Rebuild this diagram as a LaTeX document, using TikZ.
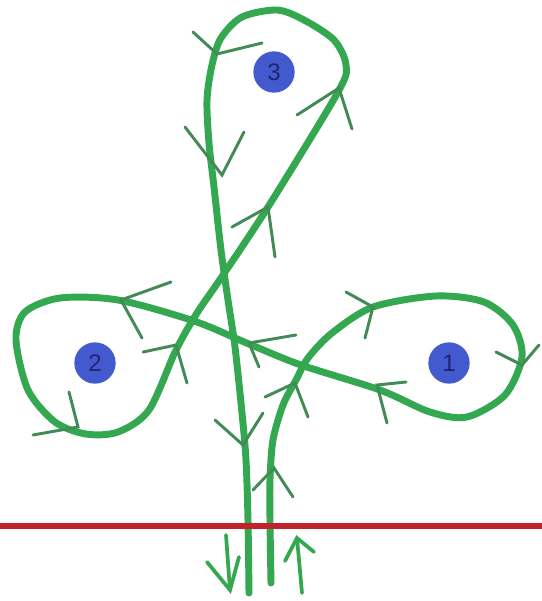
\documentclass[tikz,border=0pt]{standalone}
\usepackage{fontspec}
\setsansfont{Liberation Sans}
\definecolor{pathgreen}{RGB}{52,168,80}
\definecolor{arrowgreen}{RGB}{66,138,86}
\definecolor{redline}{RGB}{192,36,42}
\definecolor{discblue}{RGB}{66,90,205}
\definecolor{digitblue}{RGB}{28,38,115}
\tikzset{
  loopline/.style={draw=pathgreen, line width=5.2pt, line cap=round, line join=round},
  vhead/.style={draw=arrowgreen, line width=2.2pt, line cap=round, line join=miter},
  flowarrow/.style={draw=pathgreen, line width=2.8pt, line cap=round, line join=miter},
  marker/.style={circle, fill=discblue, minimum size=31pt, inner sep=0pt, text=digitblue, font=\sffamily\fontsize{18}{18}\selectfont},
  border/.style={draw=redline, line width=4.5pt}
}
\newcommand{\vh}[3]{\draw[vhead] #2 -- #1 -- #3;}
\begin{document}
\begin{tikzpicture}[x=0.75pt,y=-0.75pt]
\fill[white] (0,0) rectangle (542,601);
\useasboundingbox (0,0) rectangle (542,601);
% main path
\draw[loopline] plot[smooth, tension=0.5] coordinates {
 (271,583) (270,520) (270,480) (273,440) (283,405) (296,380) (308,358) (332,333)
 (373,307) (436,296) (484,302) (513,325) (522,357) (505,395) (467,417) (430,412)
 (380,390) (301,365) (249,344) (194,321) (118,300) (60,298) (25,312) (16,340)
 (28,390) (55,422) (86,434) (118,432) (149,410) (176,350) (197,313) (221,278)
 (268,207) (338,92) (346,65) (334,40) (304,20) (277,10) (242,17) (221,38)
 (212,65) (207,100) (209,143) (214,187) (221,250) (228,300) (235,347) (242,413)
 (246,460) (248,520) (249,593)};
% arrowheads on the path
\vh{(274,468)}{(253,490)}{(293,497)}
\vh{(295,383)}{(265,397)}{(308,417)}
\vh{(373,307)}{(346,292)}{(365,338)}
\vh{(522,365)}{(496,352)}{(539,345)}
\vh{(377,385)}{(406,382)}{(387,423)}
\vh{(249,343)}{(296,335)}{(259,367)}
\vh{(121,300)}{(171,282)}{(142,338)}
\vh{(78,427)}{(69,392)}{(33,435)}
\vh{(176,345)}{(143,352)}{(187,383)}
\vh{(268,207)}{(232,227)}{(275,257)}
\vh{(339,88)}{(297,115)}{(352,129)}
\vh{(217,54)}{(193,32)}{(262,43)}
\vh{(222,175)}{(185,127)}{(244,132)}
\vh{(243,445)}{(215,420)}{(263,413)}
% red boundary line
\coordinate (bl) at (0,526);
\coordinate (br) at (542,526);
\draw[border] (bl) -- (br);
% arrows below the line
\coordinate (dtop) at (226,535);
\coordinate (dtip) at (230,590);
\draw[flowarrow] (dtop) -- (dtip);
\draw[flowarrow] (207,562) -- (dtip) -- (239,557);
\coordinate (ubot) at (302,593);
\coordinate (utip) at (297,538);
\draw[flowarrow] (ubot) -- (utip);
\draw[flowarrow] (285,561) -- (utip) -- (314,552);
% numbered discs
\node[marker] (n1) at (449,363) {1};
\node[marker] (n2) at (95,363) {2};
\node[marker] (n3) at (274,72) {3};
\end{tikzpicture}
\end{document}
